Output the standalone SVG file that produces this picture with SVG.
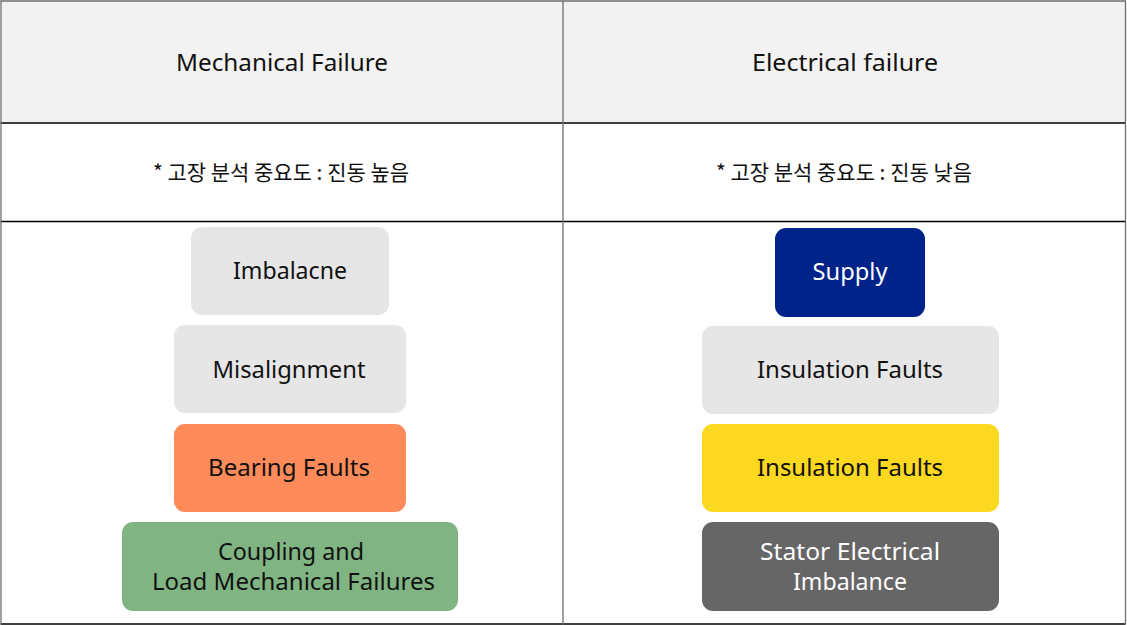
<svg xmlns="http://www.w3.org/2000/svg" width="1127" height="625" viewBox="0 0 1127 625">
<style>
  .t { font-family: "Noto Sans", "Noto Sans CJK KR", sans-serif; font-size: 24px; fill: #111; text-anchor: middle; }
  .k { font-family: "Noto Sans CJK KR", "Noto Sans", sans-serif; font-size: 21px; fill: #111; text-anchor: middle; }
  .w { fill: #ffffff; }
  .hl { stroke: #000; stroke-width: 1.3; fill: none; }
  .vl { stroke: #6e6e6e; stroke-width: 1.3; fill: none; }
  .gray { fill: #e6e6e6; }
</style>
<rect x="0" y="0" width="1127" height="625" fill="#ffffff"/>
<g id="table">
  <rect x="1" y="1" width="1124" height="122" fill="#f2f2f2"/>
  <line class="vl" x1="0.5" y1="1" x2="1125.5" y2="1"/>
  <line class="hl" x1="0.5" y1="123" x2="1125.5" y2="123"/>
  <line class="hl" x1="0.5" y1="221.5" x2="1125.5" y2="221.5"/>
  <line class="hl" x1="0.5" y1="624" x2="1125.5" y2="624"/>
  <line class="vl" x1="1" y1="0.5" x2="1" y2="624.5"/>
  <line class="vl" x1="563" y1="0.5" x2="563" y2="624.5"/>
  <line class="vl" x1="1125.5" y1="0.5" x2="1125.5" y2="624.5"/>
  <text class="t" x="282" y="71" textLength="212" lengthAdjust="spacingAndGlyphs">Mechanical Failure</text>
  <text class="t" x="845" y="71" textLength="186" lengthAdjust="spacingAndGlyphs">Electrical failure</text>
  <text class="k" x="281" y="180" textLength="256" lengthAdjust="spacingAndGlyphs">* 고장 분석 중요도 : 진동 높음</text>
  <text class="k" x="844" y="180" textLength="256" lengthAdjust="spacingAndGlyphs">* 고장 분석 중요도 : 진동 낮음</text>
</g>
<g id="connectors"></g>
<g id="imbalance">
  <rect class="gray" x="191" y="227" width="198" height="88" rx="11"/>
  <text class="t" x="290" y="279" textLength="114" lengthAdjust="spacingAndGlyphs">Imbalacne</text>
</g>
<g id="misalignment">
  <rect class="gray" x="174" y="325" width="232" height="88" rx="11"/>
  <text class="t" x="289" y="378" textLength="153" lengthAdjust="spacingAndGlyphs">Misalignment</text>
</g>
<g id="bearing">
  <rect x="174" y="424" width="232" height="88" rx="11" fill="#ff8b5a"/>
  <text class="t" x="289" y="476" textLength="162" lengthAdjust="spacingAndGlyphs">Bearing Faults</text>
</g>
<g id="coupling">
  <rect x="122" y="522" width="336" height="89" rx="11" fill="#80b583"/>
  <text class="t" x="291" y="560" textLength="146" lengthAdjust="spacingAndGlyphs">Coupling and</text>
  <text class="t" x="293.5" y="590" textLength="283" lengthAdjust="spacingAndGlyphs">Load Mechanical Failures</text>
</g>
<g id="supply">
  <rect x="775" y="228" width="150" height="89" rx="11" fill="#00238a"/>
  <text class="t w" x="850" y="280" textLength="75" lengthAdjust="spacingAndGlyphs">Supply</text>
</g>
<g id="insulation1">
  <rect class="gray" x="702" y="326" width="297" height="88" rx="11"/>
  <text class="t" x="850" y="378" textLength="186" lengthAdjust="spacingAndGlyphs">Insulation Faults</text>
</g>
<g id="insulation2">
  <rect x="702" y="424" width="297" height="88" rx="11" fill="#fdd820"/>
  <text class="t" x="850" y="476" textLength="186" lengthAdjust="spacingAndGlyphs">Insulation Faults</text>
</g>
<g id="stator">
  <rect x="702" y="522" width="297" height="89" rx="11" fill="#666666"/>
  <text class="t w" x="850" y="560" textLength="180" lengthAdjust="spacingAndGlyphs">Stator Electrical</text>
  <text class="t w" x="850" y="590" textLength="114" lengthAdjust="spacingAndGlyphs">Imbalance</text>
</g>
</svg>
